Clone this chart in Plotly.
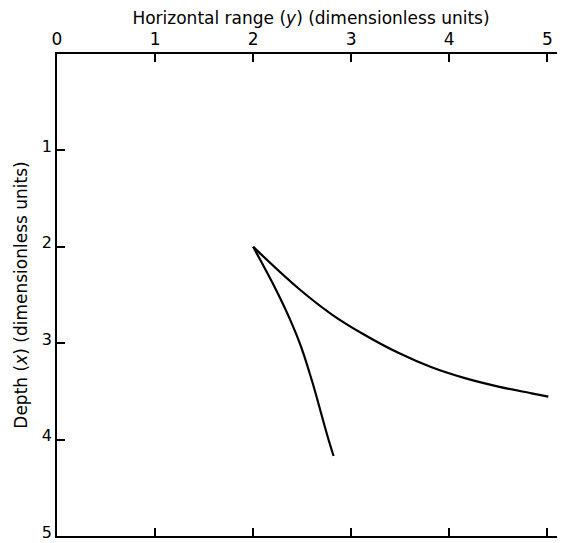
import plotly.graph_objects as go

# Curve leaving the cusp steeply downward (horizontal range y, depth x)
steep_range = [2.0, 2.21, 2.37, 2.49, 2.60, 2.76, 2.82]
steep_depth = [2.0, 2.40, 2.74, 3.04, 3.39, 3.97, 4.17]

# Curve leaving the cusp toward large horizontal range
flat_range = [2.0, 2.46, 2.80, 3.13, 3.48, 3.82, 4.15, 4.50, 4.84, 5.01]
flat_depth = [2.0, 2.43, 2.70, 2.91, 3.10, 3.25, 3.36, 3.45, 3.52, 3.555]

x_tick_vals = [0, 1, 2, 3, 4, 5]
x_tick_text = ["0", "1", "2", "3", "4", "5"]
y_tick_vals = [1, 2, 3, 4, 5]
y_tick_text = ["1", "2", "3", "4", "5"]

FONT = "DejaVu Sans"

fig = go.Figure()
fig.add_trace(go.Scatter(x=steep_range, y=steep_depth, mode="lines",
                         line=dict(color="black", width=2.2, shape="spline", smoothing=1.0),
                         showlegend=False))
fig.add_trace(go.Scatter(x=flat_range, y=flat_depth, mode="lines",
                         line=dict(color="black", width=2.2, shape="spline", smoothing=1.0),
                         showlegend=False))

# the page body adds an 8px offset; margins compensate so the plot box lands
# at left 57, top 54, bottom ~536 in the window
fig.update_layout(
    width=565, height=543,
    margin=dict(l=49, r=8, t=46, b=15),
    paper_bgcolor="white", plot_bgcolor="white",
    font=dict(family=FONT, color="black", size=16),
    xaxis=dict(
        side="top", range=[0, 5.18], automargin=False,
        tickvals=x_tick_vals, ticktext=x_tick_text,
        ticks="inside", ticklen=8, tickwidth=1.5, tickcolor="black",
        showline=True, linecolor="black", linewidth=1.5, mirror="ticks",
        showgrid=False, zeroline=False,
        title=dict(text="Horizontal range (<i>y</i>) (dimensionless units)",
                   font=dict(size=17, family=FONT), standoff=8),
        tickfont=dict(size=17, family=FONT),
    ),
    yaxis=dict(
        range=[5, 0], automargin=False,
        tickvals=y_tick_vals, ticktext=y_tick_text,
        ticks="inside", ticklen=8, tickwidth=1.5, tickcolor="black",
        showline=True, linecolor="black", linewidth=1.5, mirror="ticks",
        showgrid=False, zeroline=False,
        ticklabelshift=4,
        title=dict(text="Depth (<i>x</i>) (dimensionless units)",
                   font=dict(size=17, family=FONT), standoff=10),
        tickfont=dict(size=16, family=FONT),
    ),
)

fig.write_html("out.html")
